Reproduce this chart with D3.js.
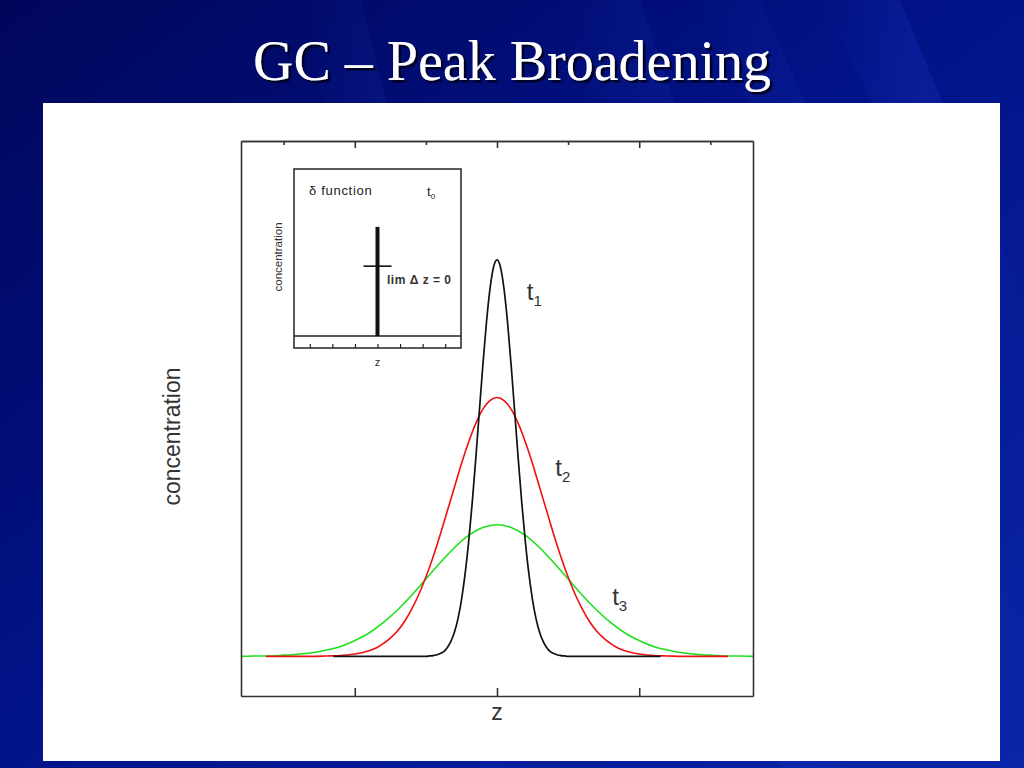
<!DOCTYPE html>
<html>
<head>
<meta charset="utf-8">
<script src="https://cdn.jsdelivr.net/npm/d3@7"></script>
<style>
  html, body { margin: 0; padding: 0; background: #000a6e; }
  svg { display: block; }
</style>
</head>
<body>
<svg id="slide" width="1024" height="768"></svg>
<script>
// ---------------- DATA ----------------
const titleText = "GC \u2013 Peak Broadening";
const xLabel = "z";
const yLabel = "concentration";

// t1 : narrow peak (black)
const zBlack = [-2.3, -1.0, -0.95, -0.9, -0.85, -0.8, -0.75, -0.7, -0.65, -0.6, -0.55, -0.5, -0.45, -0.4, -0.35, -0.3, -0.25, -0.2, -0.15, -0.1, -0.05,
                0, 0.05, 0.1, 0.15, 0.2, 0.25, 0.3, 0.35, 0.4, 0.45, 0.5, 0.55, 0.6, 0.65, 0.7, 0.75, 0.8, 0.85, 0.9, 0.95, 1.0, 2.3];
const cBlack = [0, 0, 0.001, 0.002, 0.0035, 0.007, 0.012, 0.022, 0.037, 0.060, 0.094, 0.142, 0.206, 0.287, 0.384, 0.495, 0.614, 0.732, 0.839, 0.925, 0.981,
                1.0, 0.981, 0.925, 0.839, 0.732, 0.614, 0.495, 0.384, 0.287, 0.206, 0.142, 0.094, 0.060, 0.037, 0.022, 0.012, 0.007, 0.0035, 0.002, 0.001, 0, 0];

// t2 : medium peak (red)
const zRed = [-3.25, -2.6, -2.4, -2.2, -2.0, -1.9, -1.8, -1.7, -1.6, -1.5, -1.4, -1.3, -1.2, -1.1, -1.0, -0.9, -0.8, -0.7, -0.6, -0.5, -0.4, -0.3, -0.2, -0.1,
              0, 0.1, 0.2, 0.3, 0.4, 0.5, 0.6, 0.7, 0.8, 0.9, 1.0, 1.1, 1.2, 1.3, 1.4, 1.5, 1.6, 1.7, 1.8, 1.9, 2.0, 2.2, 2.4, 2.6, 3.25];
const cRed = [0, 0, 0.001, 0.002, 0.006, 0.009, 0.014, 0.021, 0.032, 0.046, 0.064, 0.088, 0.119, 0.156, 0.200, 0.250, 0.306, 0.366, 0.426, 0.486, 0.540, 0.587, 0.623, 0.645,
              0.653, 0.645, 0.623, 0.587, 0.540, 0.486, 0.426, 0.366, 0.306, 0.250, 0.200, 0.156, 0.119, 0.088, 0.064, 0.046, 0.032, 0.021, 0.014, 0.009, 0.006, 0.002, 0.001, 0, 0];

// t3 : broad peak (green)
const zGreen = [-3.6, -3.4, -3.2, -3.0, -2.8, -2.6, -2.4, -2.2, -2.0, -1.8, -1.6, -1.4, -1.2, -1.0, -0.8, -0.6, -0.4, -0.2,
                0, 0.2, 0.4, 0.6, 0.8, 1.0, 1.2, 1.4, 1.6, 1.8, 2.0, 2.2, 2.4, 2.6, 2.8, 3.0, 3.2, 3.4, 3.6];
const cGreen = [0, 0.001, 0.001, 0.003, 0.005, 0.009, 0.016, 0.025, 0.040, 0.059, 0.085, 0.117, 0.154, 0.195, 0.236, 0.274, 0.305, 0.325,
                0.332, 0.325, 0.305, 0.274, 0.236, 0.195, 0.154, 0.117, 0.085, 0.059, 0.040, 0.025, 0.016, 0.009, 0.005, 0.003, 0.001, 0.001, 0];

// curve labels (t1, t2, t3) at data positions
const peakNames = ["t", "t", "t"];
const peakSubs = ["1", "2", "3"];
const peakLabelZ = [0.42, 0.82, 1.62];
const peakLabelC = [0.90, 0.455, 0.13];

// main axis ticks
const majorTicks = [-2, 0, 2];
const minorTicks = [-3, -1, 1, 3];

// inset: delta function at t0
const insetTicks = [-3, -2, -1, 0, 1, 2, 3];
const insetBaseZ = [-3.7, 3.7];
const insetBaseC = [0, 0];
const insetSpikeZ = [0, 0];
const insetSpikeC = [0, 1.0];
const insetMarkZ = [-0.62, 0.62];
const insetMarkC = [0.64, 0.64];
const insetTitle = "\u03b4 function";
const insetTime = ["t", "0"];
const insetNote = "lim \u0394 z = 0";
const insetYLabel = "concentration";
const insetXLabel = "z";

// ---------------- DRAWING ----------------
const svg = d3.select("#slide");
const defs = svg.append("defs");

// slide background
const bg = defs.append("linearGradient").attr("id", "bg")
  .attr("x1", "0").attr("y1", "0").attr("x2", "1").attr("y2", "1");
bg.append("stop").attr("offset", "0%").attr("stop-color", "#00065a");
bg.append("stop").attr("offset", "45%").attr("stop-color", "#021286");
bg.append("stop").attr("offset", "100%").attr("stop-color", "#0a26a8");
svg.append("rect").attr("width", 1024).attr("height", 768).attr("fill", "url(#bg)");

const streak = defs.append("linearGradient").attr("id", "streak")
  .attr("x1", "0").attr("y1", "0").attr("x2", "1").attr("y2", "0");
streak.append("stop").attr("offset", "0%").attr("stop-color", "#3b5cff").attr("stop-opacity", 0);
streak.append("stop").attr("offset", "50%").attr("stop-color", "#3b5cff").attr("stop-opacity", 0.13);
streak.append("stop").attr("offset", "100%").attr("stop-color", "#3b5cff").attr("stop-opacity", 0);

const streaks = [[560, 0, 640, 0, 900, 768, 780, 768], [700, 0, 760, 0, 1024, 600, 1024, 700],
                 [820, 0, 900, 0, 1024, 300, 1024, 400], [300, 0, 360, 0, 560, 768, 480, 768]];
svg.append("g").selectAll("polygon").data(streaks).join("polygon")
  .attr("points", d => `${d[0]},${d[1]} ${d[2]},${d[3]} ${d[4]},${d[5]} ${d[6]},${d[7]}`)
  .attr("fill", "url(#streak)");

// title with drop shadow
const shadow = defs.append("filter").attr("id", "shadow")
  .attr("x", "-10%").attr("y", "-20%").attr("width", "120%").attr("height", "150%");
shadow.append("feDropShadow").attr("dx", 2.5).attr("dy", 2.5).attr("stdDeviation", 0.6)
  .attr("flood-color", "#000018").attr("flood-opacity", 0.9);
svg.append("text").attr("x", 512).attr("y", 80).attr("text-anchor", "middle")
  .attr("font-family", "'Liberation Serif', 'Times New Roman', serif").attr("font-size", 56)
  .attr("fill", "#ffffff").attr("filter", "url(#shadow)").text(titleText);

// white panel
svg.append("rect").attr("x", 43).attr("y", 103).attr("width", 957).attr("height", 658).attr("fill", "#ffffff");

// ---------- main chart ----------
const frame = {left: 241, right: 753, top: 141, bottom: 696};
const x = d3.scaleLinear().domain([-3.6, 3.6]).range([frame.left, frame.right]);
const y = d3.scaleLinear().domain([-0.1, 1.3]).range([frame.bottom, frame.top]);

const g = svg.append("g");
const line = d3.line().x(d => x(d[0])).y(d => y(d[1])).curve(d3.curveMonotoneX);
const series = [
  {z: zGreen, c: cGreen, color: "#1ee01e", w: 1.6},
  {z: zRed, c: cRed, color: "#f01010", w: 1.6},
  {z: zBlack, c: cBlack, color: "#111111", w: 1.7}
];
g.selectAll("path.series").data(series).join("path")
  .attr("class", "series")
  .attr("d", s => line(s.z.map((v, i) => [v, s.c[i]])))
  .attr("fill", "none").attr("stroke", s => s.color).attr("stroke-width", s => s.w)
  .attr("stroke-linejoin", "round");

// axes (ticks inward)
const axisColor = "#333333";
const bottomAxis = g.append("g").attr("transform", `translate(0,${frame.bottom})`)
  .call(d3.axisBottom(x).tickValues(majorTicks).tickSizeInner(-8).tickSizeOuter(0).tickFormat(""));
const topAxisMajor = g.append("g").attr("transform", `translate(0,${frame.top})`)
  .call(d3.axisTop(x).tickValues(majorTicks).tickSizeInner(-7).tickSizeOuter(0).tickFormat(""));
const topAxisMinor = g.append("g").attr("transform", `translate(0,${frame.top})`)
  .call(d3.axisTop(x).tickValues(minorTicks).tickSizeInner(-4).tickSizeOuter(0).tickFormat(""));
const leftAxis = g.append("g").attr("transform", `translate(${frame.left},0)`)
  .call(d3.axisLeft(y).tickValues([]).tickSizeOuter(0));
const rightAxis = g.append("g").attr("transform", `translate(${frame.right},0)`)
  .call(d3.axisRight(y).tickValues([]).tickSizeOuter(0));
[bottomAxis, topAxisMajor, topAxisMinor, leftAxis, rightAxis].forEach(a => {
  a.selectAll("path.domain").attr("stroke", axisColor).attr("stroke-width", 1.6);
  a.selectAll(".tick line").attr("stroke", axisColor).attr("stroke-width", 1.6);
});

// axis labels
g.append("text").attr("x", x(0)).attr("y", 720).attr("text-anchor", "middle")
  .attr("font-family", "'Liberation Sans', Arial, sans-serif").attr("font-size", 23)
  .attr("fill", "#333").text(xLabel);
g.append("text").attr("transform", `translate(180,${(frame.top + frame.bottom) / 2 + 18}) rotate(-90)`)
  .attr("text-anchor", "middle")
  .attr("font-family", "'Liberation Sans', Arial, sans-serif").attr("font-size", 23)
  .attr("fill", "#333").text(yLabel);

// peak labels
const labels = g.selectAll("text.peak").data(peakNames.map((n, i) => i)).join("text")
  .attr("class", "peak")
  .attr("x", i => x(peakLabelZ[i])).attr("y", i => y(peakLabelC[i]))
  .attr("font-family", "'Liberation Sans', Arial, sans-serif").attr("font-size", 24)
  .attr("fill", "#333");
labels.append("tspan").text(i => peakNames[i]);
labels.append("tspan").attr("dy", 6).attr("font-size", 15).text(i => peakSubs[i]);

// ---------- inset ----------
const ib = {left: 294, right: 461, top: 169, bottom: 348};
const xi = d3.scaleLinear().domain([-3.7, 3.7]).range([ib.left, ib.right]);
const yi = d3.scaleLinear().domain([-0.11, 1.53]).range([ib.bottom, ib.top]);
const gi = svg.append("g");
gi.append("rect").attr("x", ib.left).attr("y", ib.top).attr("width", ib.right - ib.left).attr("height", ib.bottom - ib.top)
  .attr("fill", "none").attr("stroke", "#222").attr("stroke-width", 1.5);
const iline = d3.line().x(d => xi(d[0])).y(d => yi(d[1]));
gi.append("path").attr("d", iline(insetBaseZ.map((v, i) => [v, insetBaseC[i]])))
  .attr("stroke", "#222").attr("stroke-width", 1.5).attr("fill", "none");
gi.append("path").attr("d", iline(insetSpikeZ.map((v, i) => [v, insetSpikeC[i]])))
  .attr("stroke", "#111").attr("stroke-width", 4).attr("fill", "none");
gi.append("path").attr("d", iline(insetMarkZ.map((v, i) => [v, insetMarkC[i]])))
  .attr("stroke", "#111").attr("stroke-width", 1.6).attr("fill", "none");
const insetAxis = gi.append("g").attr("transform", `translate(0,${ib.bottom})`)
  .call(d3.axisBottom(xi).tickValues(insetTicks).tickSizeInner(-4).tickSizeOuter(0).tickFormat(""));
insetAxis.select("path.domain").remove();
insetAxis.selectAll(".tick line").attr("stroke", "#222").attr("stroke-width", 1.2);

const sans = "'Liberation Sans', Arial, sans-serif";
gi.append("text").attr("x", 309).attr("y", 195).attr("font-family", sans).attr("font-size", 13)
  .attr("letter-spacing", 0.7).attr("fill", "#222").text(insetTitle);
const t0 = gi.append("text").attr("x", 427).attr("y", 196).attr("font-family", sans).attr("font-size", 13).attr("fill", "#222");
t0.append("tspan").text(insetTime[0]);
t0.append("tspan").attr("dy", 3).attr("font-size", 8).text(insetTime[1]);
gi.append("text").attr("x", 387).attr("y", 284).attr("font-family", sans).attr("font-size", 12)
  .attr("font-weight", "bold").attr("letter-spacing", 0.5).attr("fill", "#333").text(insetNote);
gi.append("text").attr("transform", `translate(282,257) rotate(-90)`).attr("text-anchor", "middle")
  .attr("font-family", sans).attr("font-size", 11.5).attr("fill", "#333").text(insetYLabel);
gi.append("text").attr("x", xi(0)).attr("y", 366).attr("text-anchor", "middle")
  .attr("font-family", sans).attr("font-size", 11).attr("fill", "#333").text(insetXLabel);
</script>
</body>
</html>
